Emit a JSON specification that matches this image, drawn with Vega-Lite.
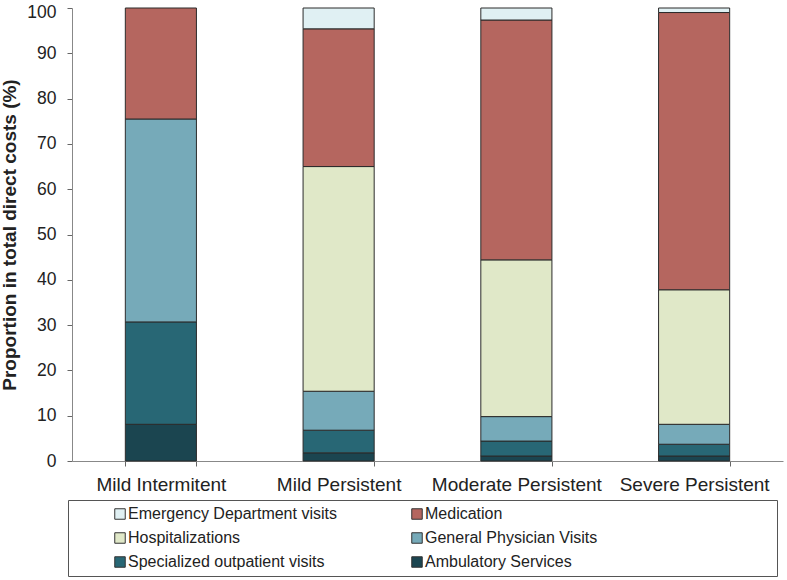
{
  "$schema": "https://vega.github.io/schema/vega-lite/v6.json",
  "width": 711,
  "height": 453,
  "autosize": {"type": "none"},
  "padding": {"left": 72, "top": 8, "right": 4, "bottom": 119},
  "background": "white",
  "config": {
    "view": {"stroke": null},
    "font": "Liberation Sans",
    "axis": {"labelFont": "Liberation Sans", "titleFont": "Liberation Sans"},
    "legend": {"labelFont": "Liberation Sans"}
  },
  "data": {
    "values": [
      {"severity": "Mild Intermitent", "component": "Ambulatory Services", "rank": 1, "value": 8.1},
      {"severity": "Mild Intermitent", "component": "Specialized outpatient visits", "rank": 2, "value": 22.6},
      {"severity": "Mild Intermitent", "component": "General Physician Visits", "rank": 3, "value": 44.8},
      {"severity": "Mild Intermitent", "component": "Medication", "rank": 5, "value": 24.5},
      {"severity": "Mild Persistent", "component": "Ambulatory Services", "rank": 1, "value": 1.8},
      {"severity": "Mild Persistent", "component": "Specialized outpatient visits", "rank": 2, "value": 5.0},
      {"severity": "Mild Persistent", "component": "General Physician Visits", "rank": 3, "value": 8.6},
      {"severity": "Mild Persistent", "component": "Hospitalizations", "rank": 4, "value": 49.6},
      {"severity": "Mild Persistent", "component": "Medication", "rank": 5, "value": 30.4},
      {"severity": "Mild Persistent", "component": "Emergency Department visits", "rank": 6, "value": 4.6},
      {"severity": "Moderate Persistent", "component": "Ambulatory Services", "rank": 1, "value": 1.1},
      {"severity": "Moderate Persistent", "component": "Specialized outpatient visits", "rank": 2, "value": 3.3},
      {"severity": "Moderate Persistent", "component": "General Physician Visits", "rank": 3, "value": 5.4},
      {"severity": "Moderate Persistent", "component": "Hospitalizations", "rank": 4, "value": 34.6},
      {"severity": "Moderate Persistent", "component": "Medication", "rank": 5, "value": 52.95},
      {"severity": "Moderate Persistent", "component": "Emergency Department visits", "rank": 6, "value": 2.65},
      {"severity": "Severe Persistent", "component": "Ambulatory Services", "rank": 1, "value": 1.1},
      {"severity": "Severe Persistent", "component": "Specialized outpatient visits", "rank": 2, "value": 2.6},
      {"severity": "Severe Persistent", "component": "General Physician Visits", "rank": 3, "value": 4.4},
      {"severity": "Severe Persistent", "component": "Hospitalizations", "rank": 4, "value": 29.7},
      {"severity": "Severe Persistent", "component": "Medication", "rank": 5, "value": 61.2},
      {"severity": "Severe Persistent", "component": "Emergency Department visits", "rank": 6, "value": 1.0}
    ]
  },
  "mark": {"type": "bar", "stroke": "#2b2b2b", "strokeWidth": 1},
  "encoding": {
    "x": {
      "field": "severity",
      "type": "nominal",
      "sort": ["Mild Intermitent", "Mild Persistent", "Moderate Persistent", "Severe Persistent"],
      "scale": {"paddingInner": 0.6, "paddingOuter": 0.3},
      "axis": {
        "title": null,
        "labelAngle": 0,
        "labelFontSize": 19,
        "labelColor": "#222222",
        "labelPadding": 9,
        "tickBand": "extent",
        "tickSize": 5,
        "tickColor": "#666666",
        "domainColor": "#888888",
        "labelLimit": 300
      }
    },
    "y": {
      "field": "value",
      "type": "quantitative",
      "stack": "zero",
      "scale": {"domain": [0, 100], "nice": false},
      "axis": {
        "title": "Proportion in total direct costs (%)",
        "titleFontSize": 19,
        "titleFontWeight": "bold",
        "titleColor": "#222222",
        "titlePadding": 7,
        "values": [0, 10, 20, 30, 40, 50, 60, 70, 80, 90, 100],
        "labelFontSize": 17.5,
        "labelColor": "#222222",
        "labelPadding": 11,
        "labelOffset": {"condition": {"test": "datum.value === 100", "value": 4}, "value": 0},
        "tickSize": 5,
        "tickColor": "#666666",
        "domainColor": "#888888",
        "grid": false
      }
    },
    "order": {"field": "rank", "type": "quantitative"},
    "color": {
      "field": "component",
      "type": "nominal",
      "scale": {
        "domain": ["Emergency Department visits", "Hospitalizations", "Specialized outpatient visits", "Medication", "General Physician Visits", "Ambulatory Services"],
        "range": ["#e0f0f3", "#e0e8c8", "#286775", "#b5665f", "#76aab9", "#1b4550"]
      },
      "legend": {
        "title": null,
        "orient": "none",
        "legendX": -4,
        "legendY": 492,
        "columns": 2,
        "columnPadding": 0,
        "rowPadding": 8,
        "padding": 6,
        "strokeColor": "#555555",
        "symbolType": "square",
        "symbolSize": 110,
        "symbolStrokeColor": "#333333",
        "symbolStrokeWidth": 1,
        "symbolOffset": 38,
        "labelOffset": 0,
        "labelFontSize": 16,
        "labelColor": "#222222",
        "labelLimit": 400,
        "encode": {
          "entries": {
            "update": {
              "noBound": {"value": false},
              "width": {"signal": "datum.index < 3 ? 297 : 400"}
            }
          }
        }
      }
    }
  }
}
